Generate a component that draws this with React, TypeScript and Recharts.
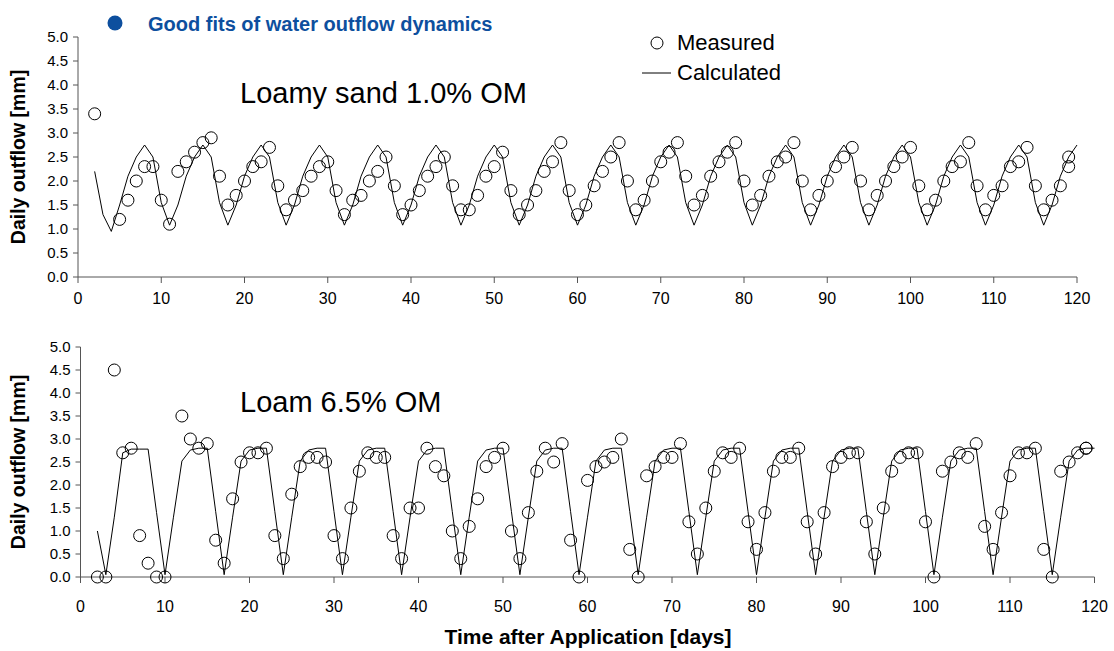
import { ComposedChart, Line, Scatter, XAxis, YAxis } from 'recharts';

const FONT = '"Liberation Sans", Arial, sans-serif';

const xTicks = [0, 10, 20, 30, 40, 50, 60, 70, 80, 90, 100, 110, 120];
const yTicks = [0, 0.5, 1, 1.5, 2, 2.5, 3, 3.5, 4, 4.5, 5];

// Loamy sand 1.0% OM — measured [day, mm]
const sandMeasured = [
  [2, 3.4], [5, 1.2], [6, 1.6], [7, 2.0], [8, 2.3], [9, 2.3], [10, 1.6], [11, 1.1],
  [12, 2.2], [13, 2.4], [14, 2.6], [15, 2.8], [16, 2.9], [17, 2.1], [18, 1.5], [19, 1.7],
  [20, 2.0], [21, 2.3], [22, 2.4], [23, 2.7], [24, 1.9], [25, 1.4], [26, 1.6], [27, 1.8],
  [28, 2.1], [29, 2.3], [30, 2.4], [31, 1.8], [32, 1.3], [33, 1.6], [34, 1.7], [35, 2.0],
  [36, 2.2], [37, 2.5], [38, 1.9], [39, 1.3], [40, 1.5], [41, 1.8], [42, 2.1], [43, 2.3],
  [44, 2.5], [45, 1.9], [46, 1.4], [47, 1.4], [48, 1.7], [49, 2.1], [50, 2.3], [51, 2.6],
  [52, 1.8], [53, 1.3], [54, 1.5], [55, 1.8], [56, 2.2], [57, 2.4], [58, 2.8], [59, 1.8],
  [60, 1.3], [61, 1.5], [62, 1.9], [63, 2.2], [64, 2.5], [65, 2.8], [66, 2.0], [67, 1.4],
  [68, 1.6], [69, 2.0], [70, 2.4], [71, 2.6], [72, 2.8], [73, 2.1], [74, 1.5], [75, 1.7],
  [76, 2.1], [77, 2.4], [78, 2.6], [79, 2.8], [80, 2.0], [81, 1.5], [82, 1.7], [83, 2.1],
  [84, 2.4], [85, 2.5], [86, 2.8], [87, 2.0], [88, 1.4], [89, 1.7], [90, 2.0], [91, 2.3],
  [92, 2.5], [93, 2.7], [94, 2.0], [95, 1.4], [96, 1.7], [97, 2.0], [98, 2.3], [99, 2.5],
  [100, 2.7], [101, 1.9], [102, 1.4], [103, 1.6], [104, 2.0], [105, 2.3], [106, 2.4], [107, 2.8],
  [108, 1.9], [109, 1.4], [110, 1.7], [111, 1.9], [112, 2.3], [113, 2.4], [114, 2.7], [115, 1.9],
  [116, 1.4], [117, 1.6], [118, 1.9], [119, 2.3], [119, 2.5],
];

// Loamy sand — calculated, one value per day starting at day 2
const sandCalcStart = 2;
const sandCalc = [
  2.2, 1.3, 0.95,
  1.5, 2.1, 2.5, 2.75, 2.5, 1.55, 1.08,
  1.5, 2.1, 2.5, 2.75, 2.5, 1.55, 1.08,
  1.5, 2.1, 2.5, 2.75, 2.5, 1.55, 1.08,
  1.5, 2.1, 2.5, 2.75, 2.5, 1.55, 1.08,
  1.5, 2.1, 2.5, 2.75, 2.5, 1.55, 1.08,
  1.5, 2.1, 2.5, 2.75, 2.5, 1.55, 1.08,
  1.5, 2.1, 2.5, 2.75, 2.5, 1.55, 1.08,
  1.5, 2.1, 2.5, 2.75, 2.5, 1.55, 1.08,
  1.5, 2.1, 2.5, 2.75, 2.5, 1.55, 1.08,
  1.5, 2.1, 2.5, 2.75, 2.5, 1.55, 1.08,
  1.5, 2.1, 2.5, 2.75, 2.5, 1.55, 1.08,
  1.5, 2.1, 2.5, 2.75, 2.5, 1.55, 1.08,
  1.5, 2.1, 2.5, 2.75, 2.5, 1.55, 1.08,
  1.5, 2.1, 2.5, 2.75, 2.5, 1.55, 1.08,
  1.5, 2.1, 2.5, 2.75, 2.5, 1.55, 1.08,
  1.5, 2.1, 2.5, 2.75, 2.5, 1.55, 1.08,
  1.5, 2.1, 2.5, 2.75,
];

// Loam 6.5% OM — measured [day, mm]
const loamMeasured = [
  [2, 0], [3, 0], [4, 4.5], [5, 2.7], [6, 2.8], [7, 0.9], [8, 0.3], [9, 0], [10, 0],
  [12, 3.5], [13, 3.0], [14, 2.8], [15, 2.9], [16, 0.8], [17, 0.3], [18, 1.7], [19, 2.5],
  [20, 2.7], [21, 2.7], [22, 2.8], [23, 0.9], [24, 0.4], [25, 1.8], [26, 2.4], [27, 2.6],
  [28, 2.6], [29, 2.5], [30, 0.9], [31, 0.4], [32, 1.5], [33, 2.3], [34, 2.7], [35, 2.6],
  [36, 2.6], [37, 0.9], [38, 0.4], [39, 1.5], [40, 1.5], [41, 2.8], [42, 2.4], [43, 2.2],
  [44, 1.0], [45, 0.4], [46, 1.1], [47, 1.7], [48, 2.4], [49, 2.6], [50, 2.8], [51, 1.0],
  [52, 0.4], [53, 1.4], [54, 2.3], [55, 2.8], [56, 2.5], [57, 2.9], [58, 0.8], [59, 0],
  [60, 2.1], [61, 2.4], [62, 2.5], [63, 2.6], [64, 3.0], [65, 0.6], [66, 0], [67, 2.2],
  [68, 2.4], [69, 2.6], [70, 2.6], [71, 2.9], [72, 1.2], [73, 0.5], [74, 1.5], [75, 2.3],
  [76, 2.7], [77, 2.6], [78, 2.8], [79, 1.2], [80, 0.6], [81, 1.4], [82, 2.3], [83, 2.6],
  [84, 2.6], [85, 2.8], [86, 1.2], [87, 0.5], [88, 1.4], [89, 2.4], [90, 2.6], [91, 2.7],
  [92, 2.7], [93, 1.2], [94, 0.5], [95, 1.5], [96, 2.3], [97, 2.6], [98, 2.7], [99, 2.7],
  [100, 1.2], [101, 0], [102, 2.3], [103, 2.5], [104, 2.7], [105, 2.6], [106, 2.9], [107, 1.1],
  [108, 0.6], [109, 1.4], [110, 2.2], [111, 2.7], [112, 2.7], [113, 2.8], [114, 0.6], [115, 0],
  [116, 2.3], [117, 2.5], [118, 2.7], [119, 2.8], [119, 2.8],
];

// Loam — calculated, one value per day starting at day 2
const loamCalcStart = 2;
const loamCalc = [
  1.0, 0.05,
  1.3, 2.7, 2.78, 2.78, 2.78, 1.4, 0.05,
  1.3, 2.52, 2.76, 2.8, 2.8, 1.42, 0.05,
  1.3, 2.52, 2.76, 2.8, 2.8, 1.42, 0.05,
  1.3, 2.52, 2.76, 2.8, 2.8, 1.42, 0.05,
  1.3, 2.52, 2.76, 2.8, 2.8, 1.42, 0.05,
  1.3, 2.52, 2.76, 2.8, 2.8, 1.42, 0.05,
  1.3, 2.52, 2.76, 2.8, 2.8, 1.42, 0.05,
  1.3, 2.52, 2.76, 2.8, 2.8, 1.42, 0.05,
  1.3, 2.52, 2.76, 2.8, 2.8, 1.42, 0.05,
  1.3, 2.52, 2.76, 2.8, 2.8, 1.42, 0.05,
  1.3, 2.52, 2.76, 2.8, 2.8, 1.42, 0.05,
  1.3, 2.52, 2.76, 2.8, 2.8, 1.42, 0.05,
  1.3, 2.52, 2.76, 2.8, 2.8, 1.42, 0.05,
  1.3, 2.52, 2.76, 2.8, 2.8, 1.42, 0.05,
  1.3, 2.52, 2.76, 2.8, 2.8, 1.42, 0.05,
  1.3, 2.52, 2.76, 2.8, 2.8, 1.42, 0.05,
  1.3, 2.52, 2.76, 2.8, 2.8,
];

const pairs = (rows: number[][]) => rows.map(([day, mm]) => ({ day, mm }));
const daily = (start: number, vals: number[]) => vals.map((mm, i) => ({ day: start + i, mm }));

function OpenCircle(props: any) {
  const { cx, cy } = props;
  if (cx == null || cy == null) return null;
  return <circle cx={cx} cy={cy} r={6} fill="none" stroke="#000" strokeWidth={1} />;
}

interface PanelProps {
  top: number;
  height: number;
  left: number;
  right: number;
  labelGap: number;
  measured: { day: number; mm: number }[];
  calc: { day: number; mm: number }[];
}

function Panel({ top, height, left, right, labelGap, measured, calc }: PanelProps) {
  return (
    <div style={{ position: 'absolute', left: 0, top }}>
      <ComposedChart width={1114} height={height} margin={{ top: 37, right, bottom: 0, left }}>
        <XAxis
          type="number"
          dataKey="day"
          domain={[0, 120]}
          ticks={xTicks}
          interval={0}
          height={40}
          stroke="#555"
          tickSize={6}
          tickMargin={labelGap}
          tick={{ fill: '#000', fontSize: 16, fontFamily: FONT }}
        />
        <YAxis
          type="number"
          dataKey="mm"
          domain={[0, 5]}
          ticks={yTicks}
          interval={0}
          width={40}
          stroke="#555"
          tickSize={5}
          tickMargin={5}
          tickFormatter={(v: number) => v.toFixed(1)}
          tick={{ fill: '#000', fontSize: 15, fontFamily: FONT }}
        />
        <Line
          data={calc}
          dataKey="mm"
          type="linear"
          stroke="#000"
          strokeWidth={1}
          dot={false}
          isAnimationActive={false}
        />
        <Scatter data={measured} dataKey="mm" shape={<OpenCircle />} isAnimationActive={false} />
      </ComposedChart>
    </div>
  );
}

export default function App() {
  return (
    <div style={{ position: 'absolute', left: 0, top: 0, width: 1114, height: 651, background: '#fff', fontFamily: FONT }}>
      <Panel top={0} height={317} left={38} right={37} labelGap={10} measured={pairs(sandMeasured)} calc={daily(sandCalcStart, sandCalc)} />
      <Panel top={310} height={307} left={40.5} right={19.5} labelGap={18} measured={pairs(loamMeasured)} calc={daily(loamCalcStart, loamCalc)} />
      <svg width={1114} height={651} style={{ position: 'absolute', left: 0, top: 0, pointerEvents: 'none' }} fontFamily={FONT}>
        <circle cx={115} cy={23} r={7.5} fill="#0d4f9e" />
        <text x={148} y={31} fontSize={20} fontWeight="bold" fill="#0d4f9e">Good fits of water outflow dynamics</text>
        <circle cx={657} cy={43} r={6} fill="none" stroke="#000" />
        <text x={677} y={50} fontSize={22} fill="#000">Measured</text>
        <line x1={642} y1={73} x2={671} y2={73} stroke="#000" strokeWidth={1} />
        <text x={677} y={80} fontSize={22} fill="#000">Calculated</text>
        <text x={240} y={103} fontSize={29} fill="#000">Loamy sand 1.0% OM</text>
        <text x={240} y={412} fontSize={29} fill="#000">Loam 6.5% OM</text>
        <text transform="translate(25,157) rotate(-90)" textAnchor="middle" fontSize={19.5} fontWeight="bold" fill="#000">Daily outflow [mm]</text>
        <text transform="translate(25,462) rotate(-90)" textAnchor="middle" fontSize={19.5} fontWeight="bold" fill="#000">Daily outflow [mm]</text>
        <text x={588} y={644} textAnchor="middle" fontSize={21} fontWeight="bold" fill="#000">Time after Application [days]</text>
      </svg>
    </div>
  );
}
